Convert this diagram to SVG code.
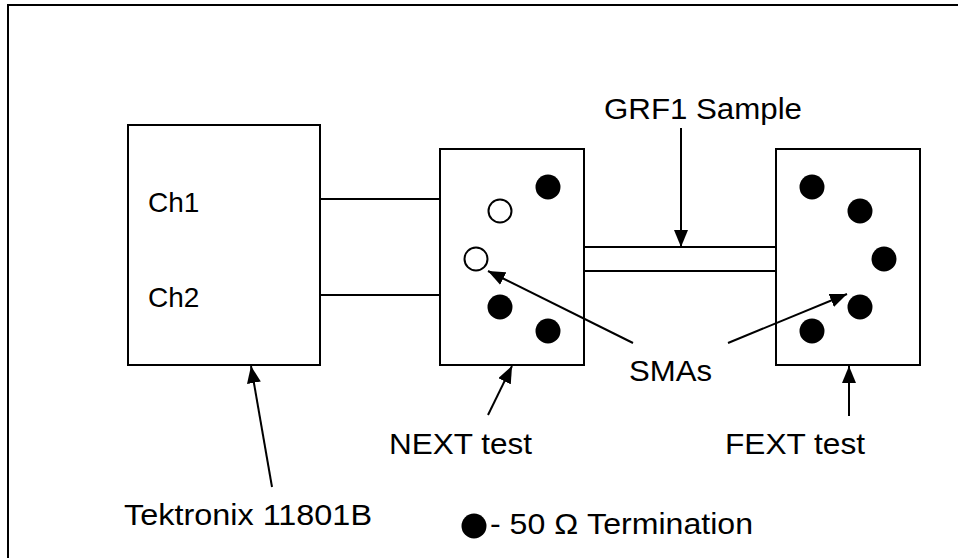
<svg xmlns="http://www.w3.org/2000/svg" width="958" height="558" viewBox="0 0 958 558">
<defs>
<style>
.box{fill:#fff;stroke:#000;stroke-width:2}
.ln{stroke:#000;stroke-width:2;fill:none}
.ar{stroke:#000;stroke-width:2;fill:none;marker-end:url(#ah)}
.t{font-family:"Liberation Sans",Arial,sans-serif;font-size:30px;fill:#000}
.ch{font-family:"Liberation Sans",Arial,sans-serif;font-size:28px;fill:#000}
.sma{fill:#fff;stroke:#000;stroke-width:2}
.term{fill:#000}
</style>
<marker id="ah" viewBox="0 0 17 14" refX="17" refY="7" markerWidth="17" markerHeight="14" markerUnits="userSpaceOnUse" orient="auto">
<path d="M0,0 L17,7 L0,14 Z" fill="#000"/>
</marker>
</defs>
<rect width="958" height="558" fill="#fff"/>
<path class="ln" d="M8,560 L8,5 L960,5"/>
<g id="tektronix">
<rect class="box" x="128" y="125" width="192" height="240"/>
<text class="ch" x="148" y="212">Ch1</text>
<text class="ch" x="148" y="307">Ch2</text>
</g>
<g id="next">
<rect class="box" x="440" y="149" width="144" height="216"/>
<circle class="term" cx="548" cy="187" r="12.5"/>
<circle class="sma" cx="500" cy="211" r="11.5"/>
<circle class="sma" cx="476" cy="259" r="11.5"/>
<circle class="term" cx="500" cy="307" r="12.5"/>
<circle class="term" cx="548" cy="331" r="12.5"/>
</g>
<g id="fext">
<rect class="box" x="776" y="149" width="144" height="216"/>
<circle class="term" cx="812" cy="187" r="12.5"/>
<circle class="term" cx="860" cy="211" r="12.5"/>
<circle class="term" cx="884" cy="259" r="12.5"/>
<circle class="term" cx="860" cy="307" r="12.5"/>
<circle class="term" cx="812" cy="331" r="12.5"/>
</g>
<g id="sample">
<line class="ln" x1="584" y1="247" x2="776" y2="247"/>
<line class="ln" x1="584" y1="271" x2="776" y2="271"/>
</g>
<g id="connectors">
<line class="ln" x1="320" y1="199" x2="440" y2="199"/>
<line class="ln" x1="320" y1="295" x2="440" y2="295"/>
<line class="ar" x1="681" y1="128" x2="681" y2="247"/>
<line class="ar" x1="272" y1="487" x2="251" y2="366"/>
<line class="ar" x1="488" y1="415" x2="512" y2="366"/>
<line class="ar" x1="849" y1="416" x2="849" y2="366"/>
<line class="ar" x1="633" y1="343" x2="488" y2="271"/>
<line class="ar" x1="728" y1="343" x2="847" y2="294"/>
</g>
<g id="labels">
<text class="t" x="604" y="119" textLength="198" lengthAdjust="spacingAndGlyphs">GRF1 Sample</text>
<text class="t" x="629" y="381" textLength="83" lengthAdjust="spacingAndGlyphs">SMAs</text>
<text class="t" x="389" y="454" textLength="143" lengthAdjust="spacingAndGlyphs">NEXT test</text>
<text class="t" x="725" y="454" textLength="140" lengthAdjust="spacingAndGlyphs">FEXT test</text>
<text class="t" x="124" y="525" textLength="248" lengthAdjust="spacingAndGlyphs">Tektronix 11801B</text>
</g>
<g id="legend">
<circle class="term" cx="474" cy="526" r="12.5"/>
<text class="t" x="490" y="534" textLength="263" lengthAdjust="spacingAndGlyphs">- 50 Ω Termination</text>
</g>
</svg>
